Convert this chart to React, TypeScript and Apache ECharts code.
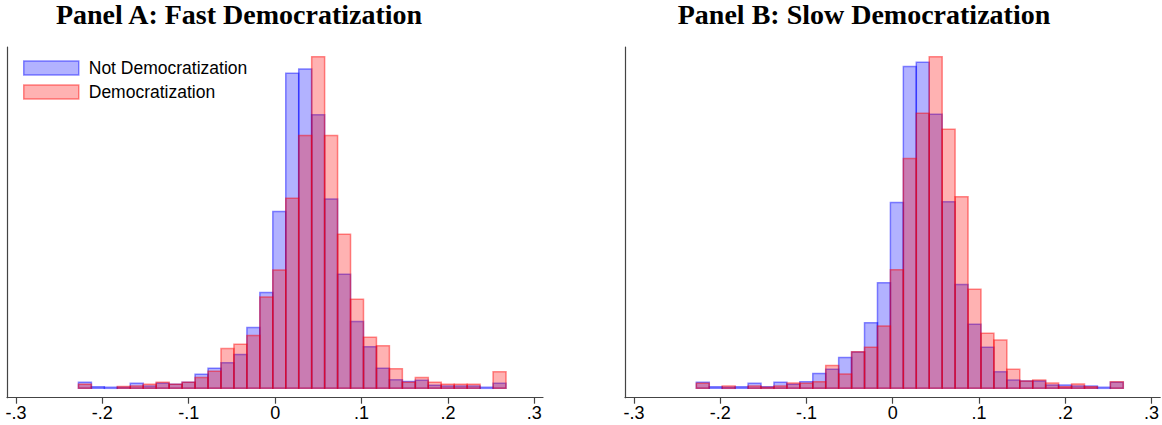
import React, { useEffect, useRef } from "react";
import * as echarts from "echarts";

// Histogram bins (Stata-style: start and width)
const binStart = -0.2277;
const binWidth = 0.015;

// Densities, Panel A: Fast Democratization
const fastNotDem = [0.22, 0.06, 0.04, 0.04, 0.18, 0.08, 0.18, 0.15, 0.22, 0.51, 0.73, 0.93, 1.23, 2.21, 3.48, 6.41, 11.43, 11.58, 9.92, 6.87, 4.14, 2.42, 1.51, 0.73, 0.31, 0.25, 0.29, 0.11, 0.08, 0.08, 0.08, 0.04, 0.18];
const fastDem = [0.15, 0, 0, 0.07, 0.08, 0.15, 0.22, 0.15, 0.22, 0.39, 0.62, 1.44, 1.6, 1.92, 3.31, 4.29, 6.89, 9.17, 12.03, 9.17, 5.59, 3.23, 1.85, 1.54, 0.71, 0.22, 0.39, 0.22, 0.15, 0.15, 0.15, 0, 0.6];

// Densities, Panel B: Slow Democratization
const slowNotDem = [0.22, 0.06, 0.04, 0.06, 0.18, 0.06, 0.22, 0.15, 0.24, 0.54, 0.69, 1.12, 1.32, 2.38, 3.83, 6.74, 11.67, 11.83, 9.94, 6.77, 3.77, 2.32, 1.49, 0.6, 0.3, 0.27, 0.27, 0.12, 0.12, 0.08, 0.08, 0.04, 0.22];
const slowDem = [0.18, 0, 0.08, 0, 0.08, 0.04, 0.08, 0.19, 0.18, 0.24, 0.83, 0.52, 1.33, 1.49, 2.26, 4.3, 8.34, 9.98, 12.03, 9.4, 6.95, 3.59, 2.0, 1.75, 0.69, 0.27, 0.3, 0.19, 0.06, 0.16, 0.06, 0, 0.24];

const tickValues = [-0.3, -0.2, -0.1, 0, 0.1, 0.2, 0.3];
const tickLabels = ["-.3", "-.2", "-.1", "0", ".1", ".2", ".3"];

const panelTitles = ["Panel A: Fast Democratization", "Panel B: Slow Democratization"];
const seriesNames = ["Not Democratization", "Democratization"];

const BLUE_FILL = "rgba(0,0,255,0.3)";
const BLUE_LINE = "rgba(0,0,255,0.45)";
const RED_FILL = "rgba(255,0,0,0.3)";
const RED_LINE = "rgba(255,0,0,0.45)";

const SANS = "'Liberation Sans', Arial, Helvetica, sans-serif";
const SERIF = "'Liberation Serif', 'Times New Roman', serif";

function toBins(vals: number[]) {
  return vals.map((v, i) => [binStart + i * binWidth, binStart + (i + 1) * binWidth, v]);
}

function histSeries(name: string, vals: number[], gridIdx: number, fill: string, line: string) {
  return {
    type: "custom",
    name,
    xAxisIndex: gridIdx,
    yAxisIndex: gridIdx,
    itemStyle: { color: fill, borderColor: line, borderWidth: 1.5 },
    data: toBins(vals),
    renderItem: (params: any, api: any) => {
      const h = api.value(2);
      if (!h) return null;
      const p0 = api.coord([api.value(0), 0]);
      const p1 = api.coord([api.value(1), h]);
      return {
        type: "rect",
        shape: { x: p0[0], y: p1[1], width: p1[0] - p0[0], height: p0[1] - p1[1] },
        style: { fill, stroke: line, lineWidth: 1.5 },
      };
    },
  };
}

function xAxisFor(gridIndex: number) {
  return {
    type: "value",
    gridIndex,
    min: -0.3104,
    max: 0.3101,
    axisLine: { show: true, onZero: false, lineStyle: { color: "#444", width: 1.2 } },
    axisTick: { show: true, length: 6, customValues: tickValues, lineStyle: { color: "#444", width: 1.2 } },
    axisLabel: {
      customValues: tickValues,
      margin: 6,
      fontSize: 18,
      fontFamily: SANS,
      color: "#000",
      formatter: (v: number) => {
        let best = 0;
        tickValues.forEach((t, i) => {
          if (Math.abs(t - v) < Math.abs(tickValues[best] - v)) best = i;
        });
        return tickLabels[best];
      },
    },
    splitLine: { show: false },
  };
}

function yAxisFor(gridIndex: number) {
  return {
    type: "value",
    gridIndex,
    min: -0.34,
    max: 12.38,
    axisLine: { show: true, onZero: false, lineStyle: { color: "#444", width: 1.2 } },
    axisTick: { show: false },
    axisLabel: { show: false },
    splitLine: { show: false },
  };
}

export default function App() {
  const ref = useRef<HTMLDivElement>(null);
  useEffect(() => {
    if (!ref.current) return;
    const chart = echarts.init(ref.current, null, { renderer: "svg" });
    chart.setOption({
      animation: false,
      backgroundColor: "#fff",
      grid: [
        { left: 7, top: 47, width: 536, height: 350.7 },
        { left: 625, top: 47, width: 536, height: 350.7 },
      ],
      xAxis: [xAxisFor(0), xAxisFor(1)],
      yAxis: [yAxisFor(0), yAxisFor(1)],
      legend: {
        orient: "vertical",
        left: 18,
        top: 54,
        itemWidth: 55,
        itemHeight: 14,
        itemGap: 6,
        icon: "rect",
        selectedMode: false,
        textStyle: { fontSize: 17.5, fontFamily: SANS, color: "#000", padding: [0, 0, 0, 5] },
        data: [
          { name: seriesNames[0], itemStyle: { color: BLUE_FILL, borderColor: BLUE_LINE, borderWidth: 1.5 } },
          { name: seriesNames[1], itemStyle: { color: RED_FILL, borderColor: RED_LINE, borderWidth: 1.5 } },
        ],
      },
      graphic: [
        {
          type: "text",
          x: 239,
          y: 14.5,
          style: { text: panelTitles[0], textAlign: "center", textVerticalAlign: "middle", font: `bold 28px ${SERIF}`, fill: "#000" },
        },
        {
          type: "text",
          x: 864,
          y: 14.5,
          style: { text: panelTitles[1], textAlign: "center", textVerticalAlign: "middle", font: `bold 28px ${SERIF}`, fill: "#000" },
        },
      ],
      series: [
        histSeries(seriesNames[0], fastNotDem, 0, BLUE_FILL, BLUE_LINE),
        histSeries(seriesNames[1], fastDem, 0, RED_FILL, RED_LINE),
        histSeries(seriesNames[0], slowNotDem, 1, BLUE_FILL, BLUE_LINE),
        histSeries(seriesNames[1], slowDem, 1, RED_FILL, RED_LINE),
      ],
    });
    return () => chart.dispose();
  }, []);
  return <div ref={ref} style={{ position: "absolute", left: 0, top: 0, width: 1162, height: 425 }} />;
}
